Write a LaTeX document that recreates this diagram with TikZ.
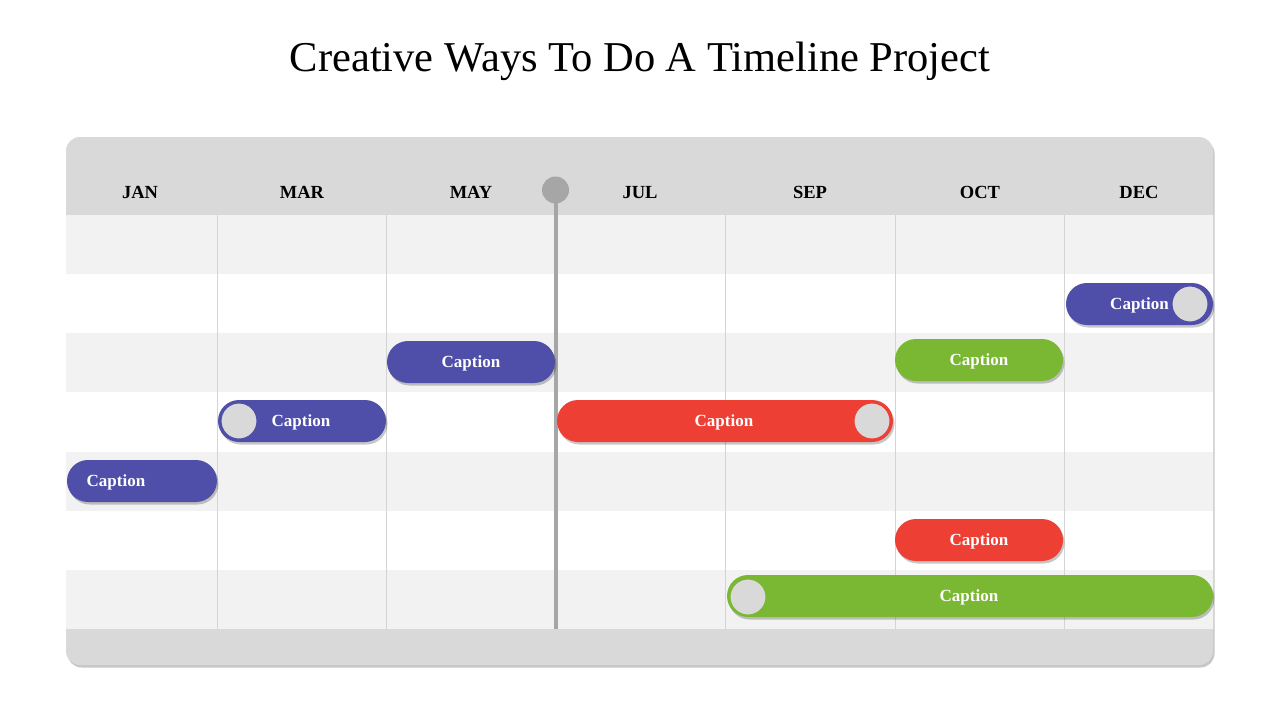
\documentclass[tikz,border=0pt]{standalone}
\usepackage{fontspec}
\setmainfont{Liberation Serif}
\usetikzlibrary{shadows}
\definecolor{panelgray}{HTML}{D9D9D9}
\definecolor{rowgray}{HTML}{F2F2F2}
\definecolor{gridgray}{HTML}{D4D4D4}
\definecolor{markergray}{HTML}{A6A6A6}
\definecolor{barpurple}{HTML}{4F4FAA}
\definecolor{barred}{HTML}{EE3F35}
\definecolor{bargreen}{HTML}{7AB733}
\begin{document}
\begin{tikzpicture}[x=1pt,y=-1pt,
  softshadow/.style={drop shadow={shadow xshift=1.5pt,shadow yshift=-2.5pt,opacity=0.22,fill=black}},
  month/.style={font=\bfseries\fontsize{18.5}{18.5}\selectfont, text=black, inner sep=0pt, text depth=0pt},
  bar/.style={rectangle, rounded corners=21pt, minimum height=42pt, inner sep=0pt,
              text=white, font=\bfseries\fontsize{17}{17}\selectfont, text depth=0pt, softshadow},
  captext/.style={text=white, font=\bfseries\fontsize{17}{17}\selectfont, inner sep=0pt, text depth=0pt},
  knob/.style={circle, fill=panelgray, minimum size=36pt, inner sep=0pt, line width=1pt},
  gridline/.style={draw=gridgray, line width=0.8pt}]
\useasboundingbox[fill=white] (0,0) rectangle (1280,720);

% title
\node[font=\fontsize{42.5}{46}\selectfont, inner sep=0pt, text depth=0pt] (title) at (640,57) {Creative Ways To Do A Timeline Project};

% panel
\path[fill=panelgray, rounded corners=14pt, softshadow] (66,137) rectangle (1213,665);

% rows
\fill[rowgray] (66,215) rectangle (1213,274);
\fill[white]   (66,274) rectangle (1213,333);
\fill[rowgray] (66,333) rectangle (1213,392);
\fill[white]   (66,392) rectangle (1213,452);
\fill[rowgray] (66,452) rectangle (1213,511);
\fill[white]   (66,511) rectangle (1213,570);
\fill[rowgray] (66,570) rectangle (1213,629);

% column lines
\foreach \x in {217,386,725,895,1064,1213}
  \draw[gridline] (\x,215) -- (\x,629);

% months
\node[month] (m1) at (140,192) {JAN};
\node[month] (m2) at (302,192) {MAR};
\node[month] (m3) at (471,192) {MAY};
\node[month] (m4) at (640,192) {JUL};
\node[month] (m5) at (810,192) {SEP};
\node[month] (m6) at (980,192) {OCT};
\node[month] (m7) at (1139,192) {DEC};

% today marker
\node[circle, fill=markergray, minimum size=27pt, inner sep=0pt] (pin) at (555.5,190) {};
\coordinate (pinend) at (555.5,629);
\draw[markergray, line width=4pt] (pin.center) -- (pinend);

% bars
\node[bar, fill=barpurple, minimum width=147pt] (b1) at (1139.5,304) {Caption};
\node[knob, draw=barpurple] (k1) at (1190,304) {};

\node[bar, fill=barpurple, minimum width=168pt] (b2) at (471,362) {Caption};

\node[bar, fill=bargreen, minimum width=168pt] (b3) at (979,360) {Caption};

\node[bar, fill=barpurple, minimum width=168pt] (b4) at (302,421) {};
\node[knob, draw=barpurple] (k4) at (239,421) {};
\node[captext] (c4) at (301,421) {Caption};

\node[bar, fill=barred, minimum width=336pt] (b5) at (725,421) {};
\node[knob, draw=barred] (k5) at (872,421) {};
\node[captext] (c5) at (724,421) {Caption};

\node[bar, fill=barpurple, minimum width=150pt] (b6) at (142,481) {};
\node[captext] (c6) at (116,481) {Caption};

\node[bar, fill=barred, minimum width=168pt] (b7) at (979,540) {Caption};

\node[bar, fill=bargreen, minimum width=486pt] (b8) at (970,596) {};
\node[knob, draw=bargreen] (k8) at (748,597) {};
\node[captext] (c8) at (969,596) {Caption};
\end{tikzpicture}
\end{document}
